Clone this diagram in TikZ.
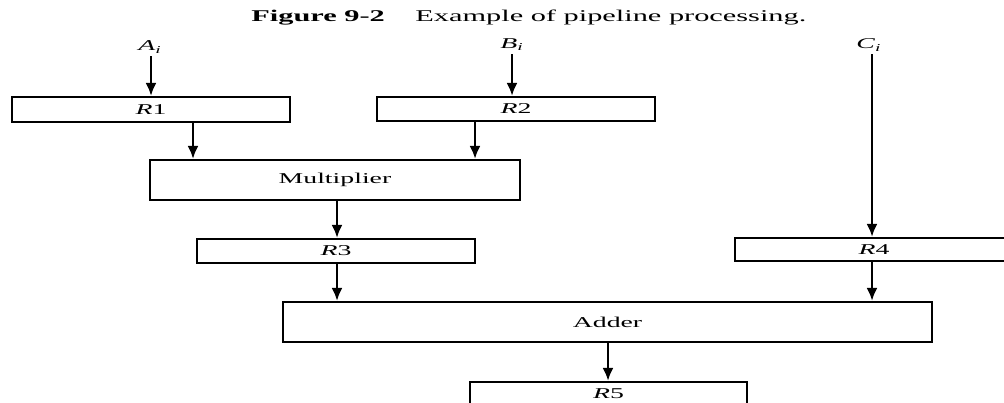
\documentclass[tikz,border=0pt]{standalone}
\usepackage{fontspec}
\setmainfont[FakeStretch=1.85]{Liberation Serif}
\usetikzlibrary{arrows.meta}
\begin{document}
\begin{tikzpicture}[x=0.5pt,y=-0.5pt,
  reg/.style={draw,line width=1.1pt,inner sep=0pt,font=\fontsize{7.5}{9}\selectfont},
  arr/.style={line width=1.2pt,-{Latex[length=6.5pt,width=5.5pt]}},
  lbl/.style={inner sep=0pt,font=\fontsize{7.5}{9}\selectfont},
  ttl/.style={inner sep=0pt,font=\fontsize{8.2}{10}\selectfont,anchor=base west}]
\useasboundingbox (0,0) rectangle (1004,402);
\clip (0,0) rectangle (1004,402);
% title
\node[ttl] (t1) at (251,21) {\textbf{Figure 9-2}};
\node[ttl] (t2) at (415,21) {Example of pipeline processing.};
% boxes
\node[reg,minimum width=139pt,minimum height=12.5pt] (R1) at (151,109.5) {\textit{R}1};
\node[reg,minimum width=139pt,minimum height=12pt] (R2) at (516,109) {\textit{R}2};
\node[reg,minimum width=185pt,minimum height=20pt] (M) at (335,180) {Multiplier};
\node[reg,minimum width=139pt,minimum height=12pt] (R3) at (336,251) {\textit{R}3};
\node[reg,minimum width=139pt,minimum height=11.5pt] (R4) at (874,249.5) {\textit{R}4};
\node[reg,minimum width=324.5pt,minimum height=20pt] (Ad) at (607.5,322) {Adder};
\node[reg,minimum width=138.5pt,minimum height=12pt] (R5) at (608.5,394) {\textit{R}5};
% inputs
\node[lbl] (A) at (150,47) {\textit{A}\textsubscript{\textit{i}}};
\node[lbl] (B) at (512,45) {\textit{B}\textsubscript{\textit{i}}};
\node[lbl] (C) at (869,45) {\textit{C}\textsubscript{\textit{i}}};
\coordinate (xa) at (151,0);
\coordinate (xb) at (512,0);
\coordinate (xc) at (872,0);
\coordinate (x1) at (193,0);
\coordinate (x2) at (475,0);
\coordinate (x3) at (337,0);
\coordinate (x5) at (608,0);
% connectors
\draw[arr] ([yshift=-1.5pt]A.south -| xa) -- (R1.north -| xa);
\draw[arr] ([yshift=-1.5pt]B.south -| xb) -- (R2.north -| xb);
\draw[arr] ([yshift=-1.5pt]C.south -| xc) -- (R4.north -| xc);
\draw[arr] (R1.south -| x1) -- (M.north -| x1);
\draw[arr] (R2.south -| x2) -- (M.north -| x2);
\draw[arr] (M.south -| x3) -- (R3.north -| x3);
\draw[arr] (R3.south -| x3) -- (Ad.north -| x3);
\draw[arr] (R4.south -| xc) -- (Ad.north -| xc);
\draw[arr] (Ad.south -| x5) -- (R5.north -| x5);
\end{tikzpicture}
\end{document}
